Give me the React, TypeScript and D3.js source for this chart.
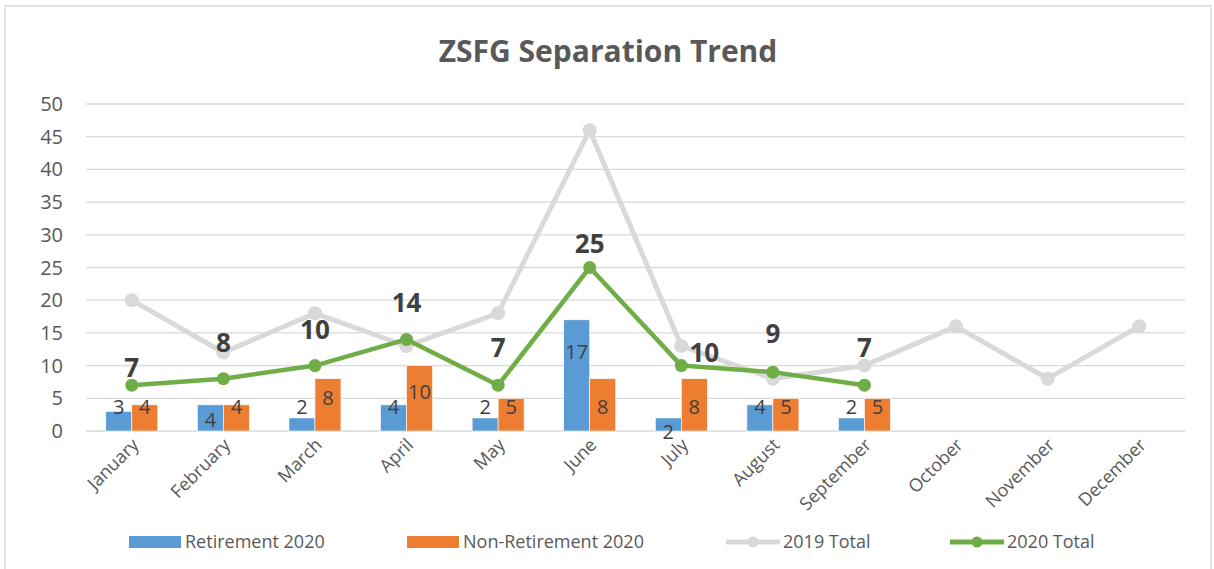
import React from 'react';
import * as d3 from 'd3';

const months = ['January', 'February', 'March', 'April', 'May', 'June', 'July', 'August', 'September', 'October', 'November', 'December'];
const retirement2020 = [3, 4, 2, 4, 2, 17, 2, 4, 2];
const nonRetirement2020 = [4, 4, 8, 10, 5, 8, 8, 5, 5];
const total2019 = [20, 12, 18, 13, 18, 46, 13, 8, 10, 16, 8, 16];
const total2020 = [7, 8, 10, 14, 7, 25, 10, 9, 7];
const yTicks = [0, 5, 10, 15, 20, 25, 30, 35, 40, 45, 50];

// where Excel left the data labels (in axis units), they were dragged by hand
const retLabelAt = [3.7, 1.7, 3.7, 3.7, 3.7, 12.1, -0.2, 3.7, 3.7];
const nonLabelAt = [3.7, 3.7, 5.0, 6.0, 3.7, 3.7, 3.7, 3.7, 3.7];
const totalLabelAt = [9.6, 13.5, 15.5, 19.6, 12.7, 28.6, 11.9, 14.8, 12.7];
const totalLabelShift = [0, 0, 0, 0, 0, 0, 23, 0, 0];

const FONT = "'Open Sans', sans-serif";
const BLUE = '#5b9bd5';
const ORANGE = '#ed7d31';
const GREY = '#d9d9d9';
const GREEN = '#70ad47';

const App = () => {
  const x = d3.scaleBand<string>().domain(months).range([86, 1185]);
  const y = d3.scaleLinear().domain([0, 50]).range([431, 104]);
  const sub = d3.scaleBand<string>().domain(['ret', 'non']).range([-26, 26]);
  const cx = (i: number) => x(months[i])! + x.bandwidth() / 2;

  const line = d3.line<number>().x((_, i) => cx(i)).y(d => y(d));

  const legendItems = [
    { label: 'Retirement 2020', x: 129, kind: 'bar', color: BLUE },
    { label: 'Non-Retirement 2020', x: 407, kind: 'bar', color: ORANGE },
    { label: '2019 Total', x: 726, kind: 'line', color: GREY },
    { label: '2020 Total', x: 950, kind: 'line', color: GREEN },
  ];

  return (
    <svg width={1214} height={569} style={{ position: 'absolute', left: 0, top: 0, background: '#fff' }} fontFamily={FONT}>
      <rect x={5} y={6} width={1206} height={600} fill="#fff" stroke={GREY} strokeWidth={1.5} />

      <text x={608} y={62} textAnchor="middle" fontSize={30} fontWeight="bold" fill="#595959">ZSFG Separation Trend</text>

      {/* gridlines and y axis */}
      {yTicks.map(t => (
        <g key={t}>
          <line x1={86} x2={1185} y1={y(t)} y2={y(t)} stroke={GREY} strokeWidth={1.3} />
          <text x={63} y={y(t)} dy="0.35em" textAnchor="end" fontSize={20} fill="#595959">{t}</text>
        </g>
      ))}

      {/* x labels */}
      {months.map((m, i) => (
        <text key={m} transform={`translate(${cx(i) + 8},${446}) rotate(-45)`} textAnchor="end" fontSize={18} fill="#595959">{m}</text>
      ))}

      {/* bars */}
      {retirement2020.map((v, i) => (
        <rect key={'r' + i} x={cx(i) + sub('ret')!} y={y(v)} width={sub.bandwidth()} height={y(0) - y(v)} fill={BLUE} stroke="#fff" strokeWidth={0.6} />
      ))}
      {nonRetirement2020.map((v, i) => (
        <rect key={'n' + i} x={cx(i) + sub('non')!} y={y(v)} width={sub.bandwidth()} height={y(0) - y(v)} fill={ORANGE} stroke="#fff" strokeWidth={0.6} />
      ))}
      {retirement2020.map((v, i) => (
        <text key={'rl' + i} x={cx(i) + sub('ret')! + sub.bandwidth() / 2} y={y(retLabelAt[i])} dy="0.35em" textAnchor="middle" fontSize={20} fill="#404040">{v}</text>
      ))}
      {nonRetirement2020.map((v, i) => (
        <text key={'nl' + i} x={cx(i) + sub('non')! + sub.bandwidth() / 2} y={y(nonLabelAt[i])} dy="0.35em" textAnchor="middle" fontSize={20} fill="#404040">{v}</text>
      ))}

      {/* 2019 total */}
      <path d={line(total2019)!} fill="none" stroke={GREY} strokeWidth={5} strokeLinejoin="round" />
      {total2019.map((v, i) => (
        <circle key={'g' + i} cx={cx(i)} cy={y(v)} r={7} fill={GREY} />
      ))}

      {/* 2020 total */}
      <path d={line(total2020)!} fill="none" stroke={GREEN} strokeWidth={4.5} strokeLinejoin="round" />
      {total2020.map((v, i) => (
        <circle key={'t' + i} cx={cx(i)} cy={y(v)} r={6.5} fill={GREEN} />
      ))}
      {total2020.map((v, i) => (
        <text key={'tl' + i} x={cx(i) + totalLabelShift[i]} y={y(totalLabelAt[i])} dy="0.35em" textAnchor="middle" fontSize={26} fontWeight="bold" fill="#404040">{v}</text>
      ))}

      {/* legend */}
      {legendItems.map(it => (
        <g key={it.label} transform={`translate(${it.x},542)`}>
          {it.kind === 'bar' ? (
            <rect x={0} y={-6} width={52} height={12} fill={it.color} />
          ) : (
            <g>
              <line x1={0} x2={54} y1={0} y2={0} stroke={it.color} strokeWidth={5} />
              <circle cx={27} cy={0} r={5.5} fill={it.color} />
            </g>
          )}
          <text x={it.kind === 'bar' ? 56 : 57} y={0} dy="0.35em" fontSize={18} fill="#595959">{it.label}</text>
        </g>
      ))}
    </svg>
  );
};

export default App;
